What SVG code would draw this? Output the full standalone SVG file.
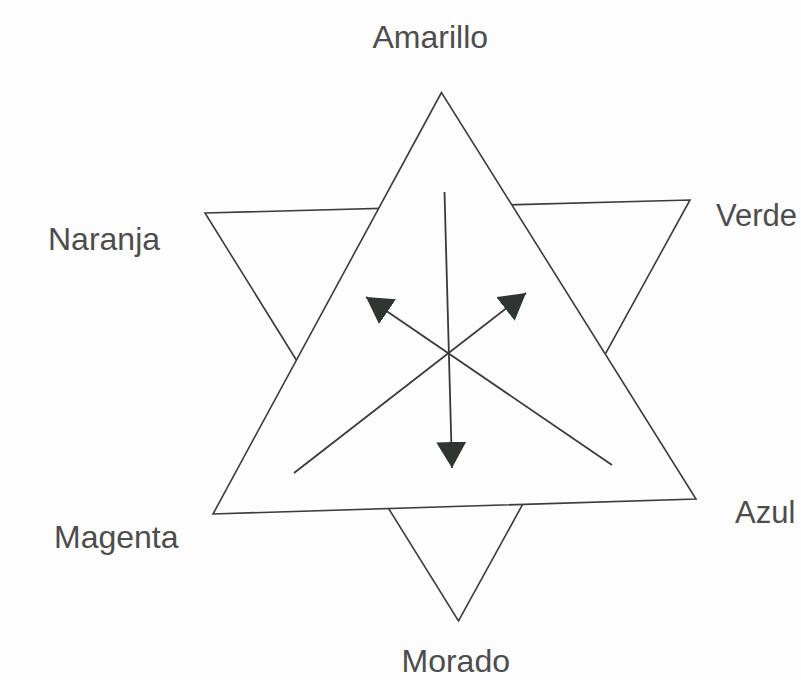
<svg xmlns="http://www.w3.org/2000/svg" width="801" height="680" viewBox="0 0 801 680">
  <style>
    .bg { fill: #fdfdfd; }
    .tri { fill: #fdfdfd; stroke: #3c3c3c; stroke-width: 1.6; stroke-linejoin: miter; }
    .conn { fill: none; stroke: #3a3a3a; stroke-width: 1.8; }
    .lbl { font-family: "Liberation Sans", Arial, sans-serif; font-size: 32px; fill: #4d4d4d; }
  </style>
  <defs>
    <marker id="arrow" markerUnits="userSpaceOnUse" markerWidth="30" markerHeight="32" refX="26" refY="15" orient="auto">
      <path d="M0,0 L26,15 L0,30 Z" fill="#2f3631"/>
    </marker>
  </defs>
  <rect class="bg" x="0" y="0" width="801" height="680"/>

  <g id="star">
    <polygon id="triangle-down" class="tri" points="205,213 690,200 458.5,621"/>
    <polygon id="triangle-up" class="tri" points="441.5,92.5 213,514 696,499"/>
  </g>

  <g id="connectors">
    <path id="arrow-down" class="conn" d="M444.5,192 L452,468" marker-end="url(#arrow)"/>
    <path id="arrow-upleft" class="conn" d="M612,465 L366,297" marker-end="url(#arrow)"/>
    <path id="arrow-upright" class="conn" d="M294,473 L526,293" marker-end="url(#arrow)"/>
  </g>

  <g id="node-amarillo"><text class="lbl" x="372.5" y="48">Amarillo</text></g>
  <g id="node-naranja"><text class="lbl" x="48" y="250">Naranja</text></g>
  <g id="node-verde"><text class="lbl" x="716" y="226" style="font-size:31px">Verde</text></g>
  <g id="node-magenta"><text class="lbl" x="54" y="548">Magenta</text></g>
  <g id="node-azul"><text class="lbl" x="735" y="523" style="font-size:31px">Azul</text></g>
  <g id="node-morado"><text class="lbl" x="401.5" y="672">Morado</text></g>
</svg>
